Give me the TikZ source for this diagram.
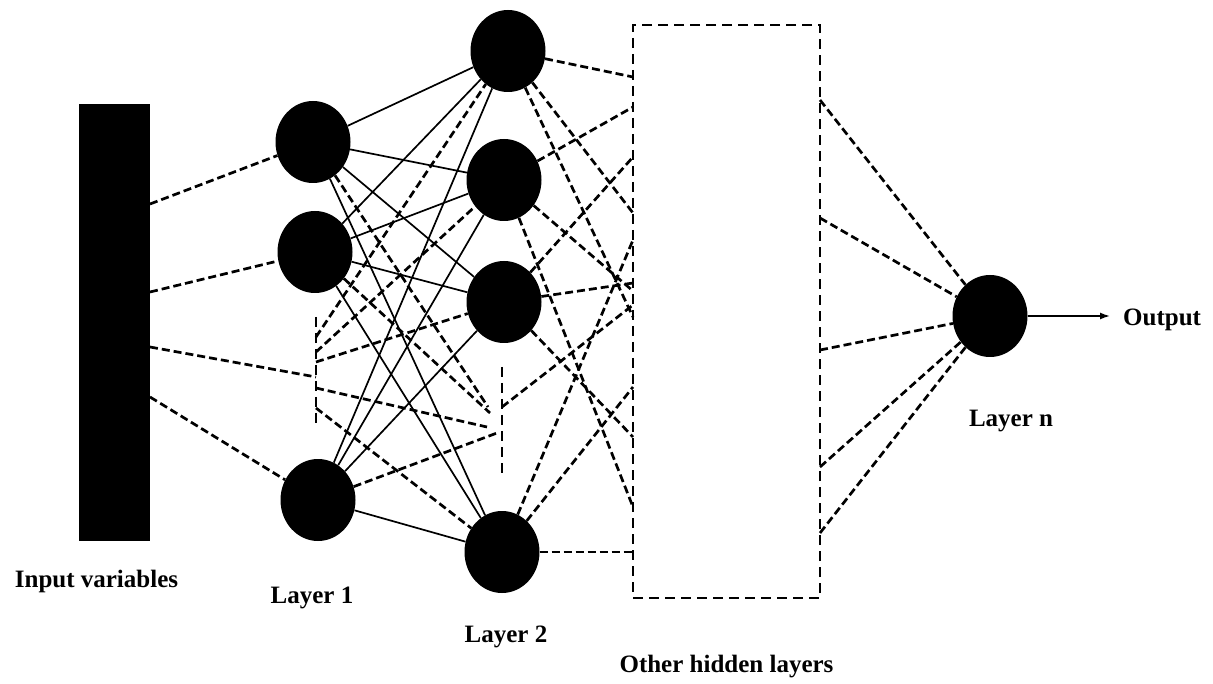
\documentclass[tikz,border=0pt]{standalone}
\usepackage{fontspec}
\setmainfont{Liberation Serif}
\usetikzlibrary{shapes.geometric,arrows.meta}
\begin{document}
\begin{tikzpicture}[x=1pt,y=-1pt,
  neuron/.style={ellipse,fill=black,draw=none,minimum width=75pt,minimum height=82pt,inner sep=0pt},
  inbar/.style={rectangle,fill=black,draw=none,minimum width=71pt,minimum height=437pt,inner sep=0pt},
  hidbox/.style={rectangle,draw=black,line width=2.9pt,dash pattern=on 10pt off 6pt,minimum width=187pt,minimum height=573pt,inner sep=0pt},
  dconn/.style={line width=2.7pt,dash pattern=on 8pt off 4pt},
  sconn/.style={line width=1.7pt},
  dotsline/.style={line width=2.5pt,dash pattern=on 10pt off 6pt},
  outarrow/.style={line width=1.5pt,-{Latex[length=10pt,width=7pt]},shorten >=13pt},
  lbl/.style={font=\bfseries\fontsize{25}{30}\selectfont,inner sep=0pt,anchor=base}
]
\fill[white] (0,0) rectangle (1213,684);
\useasboundingbox (0,0) rectangle (1213,684);

% ---------- nodes ----------
\node[inbar] (bar) at (114.5,322.5) {};
\node[neuron] (L1a) at (313,142) {};
\node[neuron] (L1b) at (315,252) {};
\node[neuron] (L1c) at (318,500) {};
\node[neuron] (L2a) at (508,51) {};
\node[neuron] (L2b) at (504,180) {};
\node[neuron] (L2c) at (504,302) {};
\node[neuron] (L2d) at (502,552) {};
\node[neuron] (Ln) at (990,316) {};
\node[hidbox] (box) at (726.5,311.5) {};

% ---------- labels ----------
\node[lbl] (tin) at (96.5,587) {Input variables};
\node[lbl] (t1) at (312,603) {Layer 1};
\node[lbl] (t2) at (506,642) {Layer 2};
\node[lbl] (th) at (726.5,672) {Other hidden layers};
\node[lbl] (tn) at (1011,427) {Layer n};
\node[lbl,anchor=base west] (out) at (1123,326) {Output};

% ---------- coordinates ----------
% input bar right edge
\coordinate (i1) at (150,204);
\coordinate (i2) at (150,292);
\coordinate (i3) at (150,347);
\coordinate (i4) at (150,397);
% layer 1 "dots"
\coordinate (d1t) at (316,317);
\coordinate (d1b) at (316,427);
\coordinate (p1in) at (316,377);
\coordinate (p1a) at (316,337);
\coordinate (p1b) at (316,352);
\coordinate (p1c) at (316,362);
\coordinate (p1s) at (316,388);
\coordinate (p1d) at (316,408);
% layer 2 "dots"
\coordinate (d2t) at (502,367);
\coordinate (d2b) at (502,477);
\coordinate (q2a) at (488,407);
\coordinate (q2b) at (490,413);
\coordinate (q2s) at (487,427);
\coordinate (q2c) at (497,433);
\coordinate (q2o) at (502,407);
% hidden box left side
\coordinate (bA) at (633,77);
\coordinate (bB) at (633,107);
\coordinate (bC) at (633,157);
\coordinate (bD) at (633,213);
\coordinate (bE) at (633,240);
\coordinate (bF) at (633,283);
\coordinate (bG) at (633,291);
\coordinate (bH) at (633,305);
\coordinate (bI) at (633,317);
\coordinate (bJ) at (633,387);
\coordinate (bK) at (633,437);
\coordinate (bL) at (633,507);
\coordinate (bM) at (633,552);
% hidden box right side
\coordinate (r1) at (820,100);
\coordinate (r2) at (820,218);
\coordinate (r3) at (820,350);
\coordinate (r4) at (820,467);
\coordinate (r5) at (820,533);

% ---------- dots ----------
\draw[dotsline] (d1t) -- (d1b);
\draw[dotsline] (d2t) -- (d2b);

% ---------- input -> layer 1 ----------
\draw[dconn] (i1) -- (L1a);
\draw[dconn] (i2) -- (L1b);
\draw[dconn] (i3) -- (p1in);
\draw[dconn] (i4) -- (L1c);

% ---------- layer 1 -> layer 2 (solid) ----------
\foreach \a in {L1a,L1b,L1c}{
  \foreach \b in {L2a,L2b,L2c,L2d}{
    \draw[sconn] (\a) -- (\b);
  }
}
% dashed ones involving the dots
\draw[dconn] (L1a) -- (q2a);
\draw[dconn] (L1b) -- (q2b);
\draw[dconn] (L1c) -- (q2c);
\draw[dconn] (p1a) -- (L2a);
\draw[dconn] (p1b) -- (L2b);
\draw[dconn] (p1c) -- (L2c);
\draw[dconn] (p1s) -- (q2s);
\draw[dconn] (p1d) -- (L2d);

% ---------- layer 2 -> hidden layers ----------
\draw[dconn] (L2a) -- (bA);
\draw[dconn] (L2a) -- (bD);
\draw[dconn] (L2a) -- (bI);
\draw[dconn] (L2b) -- (bB);
\draw[dconn] (L2b) -- (bG);
\draw[dconn] (L2b) -- (bL);
\draw[dconn] (L2c) -- (bC);
\draw[dconn] (L2c) -- (bF);
\draw[dconn] (L2c) -- (bK);
\draw[dconn] (q2o) -- (bH);
\draw[dconn] (L2d) -- (bE);
\draw[dconn] (L2d) -- (bJ);
\draw[dconn] (L2d) -- (bM);

% ---------- hidden layers -> layer n ----------
\foreach \r in {r1,r2,r3,r4,r5}{
  \draw[dconn] (\r) -- (Ln);
}

% ---------- output ----------
\draw[outarrow] (Ln) -- (Ln -| out.west);
\end{tikzpicture}
\end{document}
